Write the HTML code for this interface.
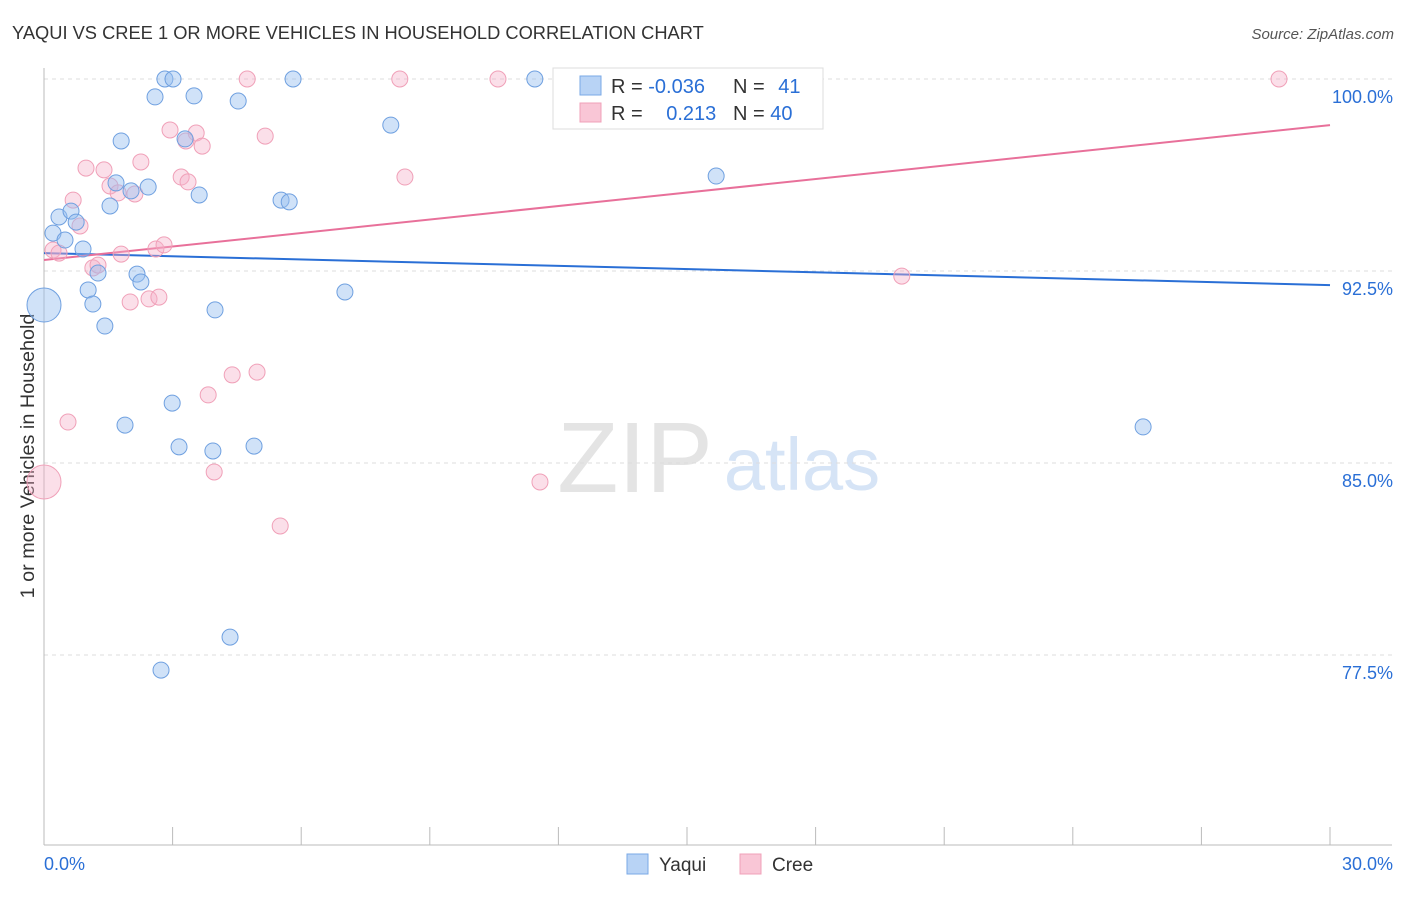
<!DOCTYPE html>
<html><head><meta charset="utf-8"><style>
body{margin:0;background:#fff;font-family:"Liberation Sans",sans-serif;}
svg text{font-family:"Liberation Sans",sans-serif;}
</style></head><body>
<svg id="c" width="1406" height="892" xmlns="http://www.w3.org/2000/svg">
<text x="12" y="39" font-size="18.3" fill="#333">YAQUI VS CREE 1 OR MORE VEHICLES IN HOUSEHOLD CORRELATION CHART</text>
<text x="1394" y="39" font-size="15" fill="#555" font-style="italic" text-anchor="end">Source: ZipAtlas.com</text>
<text x="34" y="456" font-size="19.8" fill="#333" text-anchor="middle" transform="rotate(-90 34 456)">1 or more Vehicles in Household</text>
<g><text x="635" y="492" font-size="100" fill="#e4e4e4" font-family="Liberation Serif" text-anchor="middle">ZIP</text><text x="802" y="490" font-size="74" fill="#d6e4f6" text-anchor="middle">atlas</text></g>
<g id="grid"></g><g id="axes"></g><g id="trend"></g><g id="pts"></g>
<g>
<rect x="553" y="68" width="270" height="61" fill="#fff" stroke="#ddd"/>
<rect x="580" y="76" width="21" height="19" fill="#b8d3f5" stroke="#7aa8e6"/>
<rect x="580" y="103" width="21" height="19" fill="#f9c6d6" stroke="#f0a0b8"/>
<text x="611" y="93" font-size="20" fill="#333">R = <tspan fill="#2a6fd6">-0.036</tspan></text>
<text x="733" y="93" font-size="20" fill="#333">N = <tspan fill="#2a6fd6" dx="8">41</tspan></text>
<text x="611" y="120" font-size="20" fill="#333">R = <tspan fill="#2a6fd6" dx="18">0.213</tspan></text>
<text x="733" y="120" font-size="20" fill="#333">N = <tspan fill="#2a6fd6">40</tspan></text>
</g>
<g>
<rect x="627" y="854" width="21" height="20" fill="#b8d3f5" stroke="#7aa8e6"/><text x="659" y="871" font-size="19" fill="#333">Yaqui</text>
<rect x="740" y="854" width="21" height="20" fill="#f9c6d6" stroke="#f0a0b8"/><text x="772" y="871" font-size="19" fill="#333">Cree</text>
</g>
</svg>
<script>
const yaquiX=[2.82,3.01,5.81,11.45,2.59,3.50,4.53,8.09,1.80,3.29,1.68,2.03,2.43,3.62,1.54,5.53,5.72,15.68,0.35,0.63,0.75,0.21,0.49,0.91,2.17,1.26,2.26,1.03,1.14,7.02,3.99,1.42,0,2.99,1.89,3.15,3.94,4.90,25.64,4.34,2.73];
const yaquiY=[100,100,100,100,99.30,99.34,99.14,98.20,97.58,97.66,95.94,95.63,95.78,95.47,95.04,95.27,95.20,96.21,94.61,94.84,94.41,93.98,93.71,93.36,92.38,92.42,92.07,91.76,91.21,91.68,90.98,90.35,91.17,87.34,86.48,85.63,85.47,85.66,86.41,78.20,76.91];
const yaquiBig=[32];
const creeX=[4.74,8.30,10.59,14.28,28.81,2.94,3.55,5.16,3.69,3.31,2.26,0.98,1.40,3.20,3.36,8.42,1.54,1.73,2.12,0.68,0.84,0.21,0.35,1.80,2.61,2.80,1.14,1.26,2.01,2.45,2.68,20.01,4.39,4.97,3.83,0.56,3.97,0,11.57,5.51];
const creeY=[100,100,100,100,100,98.01,97.89,97.77,97.38,97.58,96.76,96.52,96.45,96.17,95.98,96.17,95.82,95.55,95.51,95.27,94.26,93.32,93.20,93.16,93.36,93.52,92.62,92.73,91.29,91.41,91.48,92.30,88.44,88.55,87.66,86.60,84.65,84.26,84.26,82.54];
const creeBig=[37];
const yaquiTrend=[93.20,91.95];
const creeTrend=[92.93,98.20];
const yTicks=[100,92.5,85,77.5];
const yTickLabels=["100.0%","92.5%","85.0%","77.5%"];
const xTicks=[0,3,6,9,12,15,18,21,24,27,30];
const NS="http://www.w3.org/2000/svg";
const X=v=>44+v*42.867, Y=v=>79+(100-v)*25.6;
function mk(t,a,p){const e=document.createElementNS(NS,t);for(const k in a)e.setAttribute(k,a[k]);p.appendChild(e);return e;}
const grid=document.getElementById('grid'),axes=document.getElementById('axes'),tr=document.getElementById('trend'),pts=document.getElementById('pts');
yTicks.forEach((v,i)=>{
 const l=mk('line',{x1:44,x2:1392,y1:Y(v),y2:Y(v),stroke:'#ddd','stroke-dasharray':'4 4'},grid);
 
 
 const t=mk('text',{x:1393,y:Y(v)+24,'font-size':18,fill:'#2a6fd6','text-anchor':'end'},axes);t.textContent=yTickLabels[i];
 
 
});
let a=mk('line',{x1:44,x2:44,y1:68,y2:845,stroke:'#bbb'},axes);


a=mk('line',{x1:44,x2:1392,y1:845,y2:845,stroke:'#bbb'},axes);


xTicks.forEach(v=>{const l=mk('line',{x1:X(v),x2:X(v),y1:827,y2:845,stroke:'#bbb'},axes);
 
 });
let t=mk('text',{x:44,y:870,'font-size':18,fill:'#2a6fd6'},axes);t.textContent='0.0%';


t=mk('text',{x:1393,y:870,'font-size':18,fill:'#2a6fd6','text-anchor':'end'},axes);t.textContent='30.0%';


function series(xs,ys,big,fill,stroke,name){xs.forEach((x,i)=>{const c=mk('circle',{cx:X(x),cy:Y(ys[i]),r:big.includes(i)?17:8,fill:fill,stroke:stroke,'stroke-width':1},pts);
 
 });}
series(creeX,creeY,creeBig,'rgba(246,176,200,0.4)','#f0a0b8','cree-point');
series(yaquiX,yaquiY,yaquiBig,'rgba(150,190,240,0.45)','#6fa0e0','yaqui-point');
let l=mk('line',{x1:X(0),x2:X(30),y1:Y(yaquiTrend[0]),y2:Y(yaquiTrend[1]),stroke:'#2a6fd6','stroke-width':2},tr);


l=mk('line',{x1:X(0),x2:X(30),y1:Y(creeTrend[0]),y2:Y(creeTrend[1]),stroke:'#e8709a','stroke-width':2},tr);


</script>
</body></html>
